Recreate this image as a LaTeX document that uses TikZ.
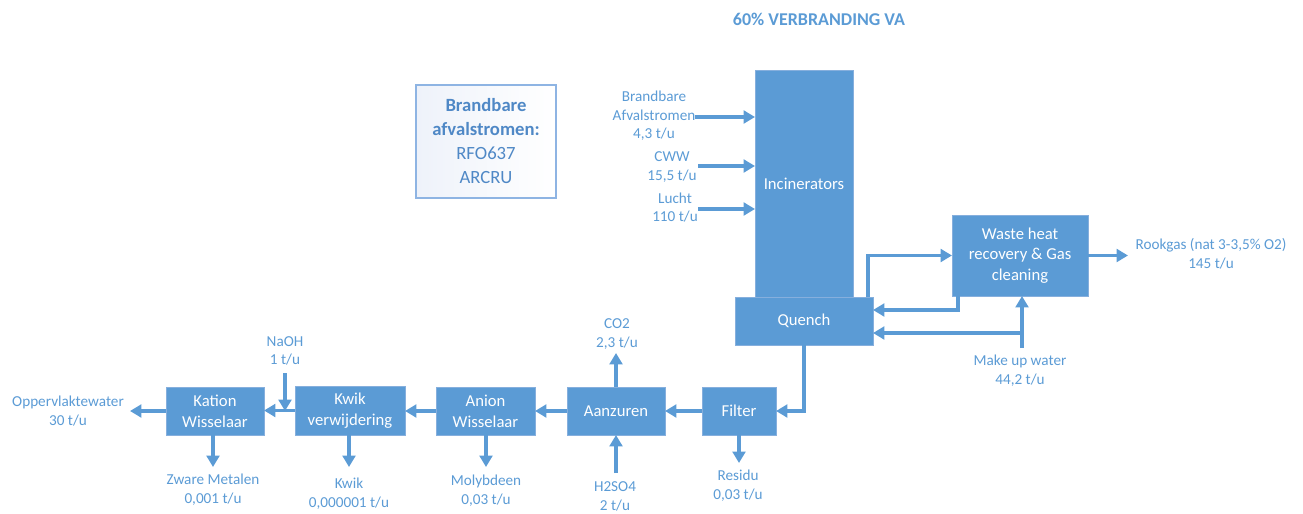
\documentclass[tikz,border=0pt]{standalone}
\usepackage{fontspec}
\setmainfont{Carlito}
\usetikzlibrary{arrows.meta,calc}
\definecolor{procblue}{HTML}{5B9BD5}
\definecolor{procedge}{HTML}{86AFDD}
\definecolor{lblblue}{HTML}{5B9BD5}
\definecolor{legendedge}{HTML}{8EB4E3}
\definecolor{legendtext}{HTML}{4F88C6}
\definecolor{legendfill}{HTML}{EEF2FA}
\begin{document}
\begin{tikzpicture}[x=0.75pt,y=-0.75pt,
  proc/.style={draw=procedge, line width=0.75pt, fill=procblue, text=white,
    inner sep=0pt, outer sep=0pt, align=center, font=\fontsize{12.5}{15.5}\selectfont},
  lbl/.style={text=lblblue, inner sep=0pt, align=center, font=\fontsize{11.4}{14}\selectfont},
  flow/.style={draw=procblue, line width=2.4pt, -{Triangle[length=8.5pt,width=9.5pt]}},
]
\useasboundingbox (0,0) rectangle (1303,514);

% title
\node[text=lblblue, font=\fontsize{13.5}{15}\selectfont\bfseries] (title) at (819,19) {60\% VERBRANDING VA};

% legend box
\node[draw=legendedge, line width=1.1pt, left color=legendfill, right color=white,
  minimum width=105pt, minimum height=84.75pt, inner sep=0pt, align=center,
  text=legendtext, font=\fontsize{14}{18}\selectfont] (legend) at (486,141.5)
  {\textbf{Brandbare}\\\textbf{afvalstromen:}\\RFO637\\ARCRU};

% process units
\node[proc, minimum width=73.5pt, minimum height=170.25pt] (incin) at (804,183.5) {Incinerators};
\node[proc, minimum width=103.5pt, minimum height=36pt] (quench) at (804,321) {Quench};
\node[proc, minimum width=102pt, minimum height=60.75pt] (whr) at (1020,255.5) {Waste heat\\recovery \& Gas\\cleaning};
\node[proc, minimum width=55.5pt, minimum height=36pt] (filter) at (739,411) {Filter};
\node[proc, minimum width=73.5pt, minimum height=36pt] (aanz) at (616,411) {Aanzuren};
\node[proc, minimum width=74.25pt, minimum height=36pt] (anion) at (485.5,411) {Anion\\Wisselaar};
\node[proc, minimum width=82.5pt, minimum height=36.75pt] (kwik) at (350,410.5) {Kwik\\verwijdering};
\node[proc, minimum width=73.5pt, minimum height=36pt] (kation) at (215,411) {Kation\\Wisselaar};

% stream labels
\node[lbl] (lBrand) at (654,116) {Brandbare\\Afvalstromen\\4,3 t/u};
\node[lbl] (lCww) at (672,167) {CWW\\15,5 t/u};
\node[lbl] (lLucht) at (675,207.5) {Lucht\\110 t/u};
\node[lbl] (lRook) at (1211,254) {Rookgas (nat 3-3,5\% O2)\\145 t/u};
\node[lbl] (lMake) at (1020,371) {Make up water\\44,2 t/u};
\node[lbl] (lOpp) at (68,411) {Oppervlaktewater\\30 t/u};
\node[lbl] (lNaoh) at (285,351) {NaOH\\1 t/u};
\node[lbl] (lCo2) at (617,334) {CO2\\2,3 t/u};
\node[lbl] (lZware) at (213,490) {Zware Metalen\\0,001 t/u};
\node[lbl] (lKwik) at (349,493.5) {Kwik\\0,000001 t/u};
\node[lbl] (lMoly) at (486,491) {Molybdeen\\0,03 t/u};
\node[lbl] (lH2) at (615,496.5) {H2SO4\\2 t/u};
\node[lbl] (lRes) at (738,485.5) {Residu\\0,03 t/u};

% free ends of the streams
\coordinate (sBrand) at (695,117);
\coordinate (sCww) at (698,166);
\coordinate (sLucht) at (698,209);
\coordinate (tRook) at (1128,255.5);
\coordinate (sMake) at (1022,348);
\coordinate (tOpp) at (130,411);
\coordinate (sNaoh) at (285,373);
\coordinate (tCo2) at (616,353);
\coordinate (sH2) at (616,473);
\coordinate (tZware) at (213,467);
\coordinate (tKwik) at (349,467);
\coordinate (tMoly) at (486,467);
\coordinate (tRes) at (739,463);

% incinerator feeds
\draw[flow] (sBrand) -- (sBrand -| incin.west);
\draw[flow] (sCww) -- (sCww -| incin.west);
\draw[flow] (sLucht) -- (sLucht -| incin.west);

% gas side
\draw[flow] ($(quench.north east)+(-5,0)$) |- (whr.west);
\draw[flow] ($(whr.south west)+(6,0)$) |- ($(quench.east)+(0,-11)$);
\draw[flow] (whr.east) -- (tRook);
\draw[flow] (sMake) -- (sMake |- whr.south);
\draw[flow] ($(sMake |- quench.east)+(0,12)$) -- ($(quench.east)+(0,12)$);

% water treatment train
\draw[flow] (quench.south) |- (filter.east);
\draw[flow] (filter.west) -- (aanz.east);
\draw[flow] (aanz.west) -- (anion.east);
\draw[flow] (anion.west) -- (anion.west -| kwik.east);
\draw[flow] (kwik.west) -- (kwik.west -| kation.east);
\draw[flow] (kation.west) -- (tOpp);
\draw[flow] (sNaoh) -- (sNaoh |- kation.east);
\draw[flow] (aanz.north) -- (tCo2);
\draw[flow] (sH2) -- (aanz.south);
\draw[flow] (tZware |- kation.south) -- (tZware);
\draw[flow] (tKwik |- kwik.south) -- (tKwik);
\draw[flow] (anion.south -| tMoly) -- (tMoly);
\draw[flow] (filter.south) -- (tRes);
\end{tikzpicture}
\end{document}
